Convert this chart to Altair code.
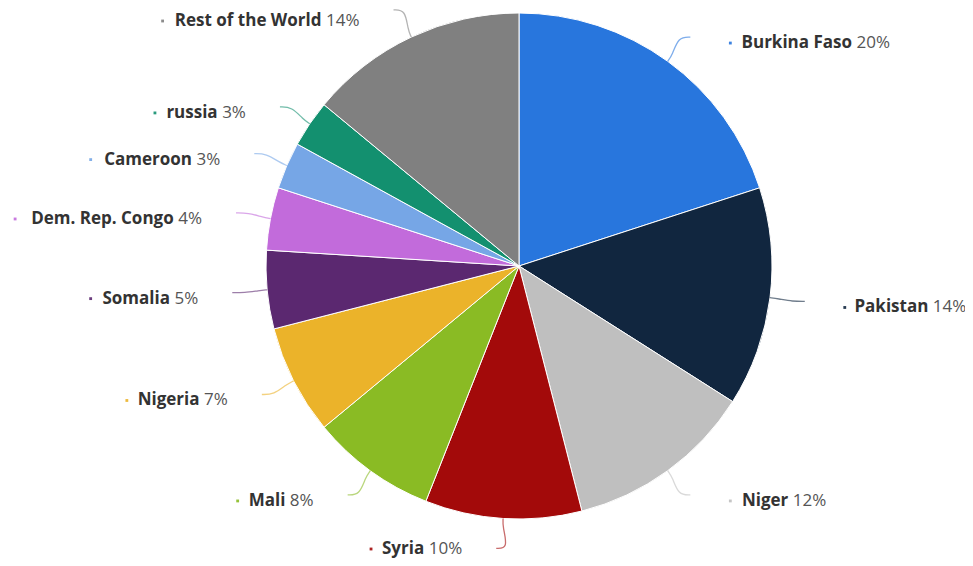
import altair as alt
import pandas as pd

countries = ["Burkina Faso", "Pakistan", "Niger", "Syria", "Mali", "Nigeria",
             "Somalia", "Dem. Rep. Congo", "Cameroon", "russia", "Rest of the World"]
shares = [20, 14, 12, 10, 8, 7, 5, 4, 3, 3, 14]
colors = ["#2876dd", "#11263f", "#bfbfbf", "#a30a0a", "#8abb24", "#ebb32a",
          "#5b2870", "#c26bdb", "#76a6e6", "#13906f", "#808080"]

FONT = "Open Sans"
FS = 17

# approximate Open Sans advance widths (units per 2048 em)
W_REG = {
    " ": 532, "%": 1579, ".": 545,
    "A": 1296, "B": 1327, "C": 1292, "D": 1493, "E": 1139, "F": 1057, "G": 1491,
    "H": 1511, "I": 571, "K": 1245, "M": 1849, "N": 1556, "P": 1237, "R": 1255,
    "S": 1124, "W": 1931,
    "a": 1139, "b": 1255, "c": 975, "d": 1255, "e": 1149, "f": 694, "g": 1122,
    "h": 1257, "i": 518, "k": 1075, "l": 518, "m": 1905, "n": 1257, "o": 1237,
    "p": 1255, "r": 836, "s": 977, "t": 723, "u": 1257, "w": 1599, "y": 1026,
}
for d in "0123456789":
    W_REG[d] = 1171


def text_w(s, bold):
    f = 1.07 if bold else 1.0
    return sum(W_REG.get(ch, 1150) for ch in s) / 2048 * FS * f


pcts = [f"{v}%" for v in shares]
df = pd.DataFrame({
    "country": countries,
    "value": shares,
    "idx": list(range(len(countries))),
    "pct": pcts,
    "nw": [round(text_w(c, True), 1) for c in countries],
    "pw": [round(text_w(p, False), 1) for p in pcts],
})

CX, CY, R, RB, RL = 511, 258, 253, 261, 283
SP = 4.5

color_scale = alt.Scale(domain=countries, range=colors)

base = alt.Chart(df)

pie = base.mark_arc(outerRadius=R, stroke="white", strokeWidth=1).encode(
    theta=alt.Theta("value:Q", stack=True),
    color=alt.Color("country:N", scale=color_scale, legend=None),
    order=alt.Order("idx:Q", sort="ascending"),
    x=alt.value(CX),
    y=alt.value(CY),
)

geo = (
    base.transform_joinaggregate(total="sum(value)")
    .transform_window(cum="sum(value)", sort=[alt.SortField("idx")], frame=[None, 0])
    .transform_calculate(mid="2*PI*(datum.cum - datum.value/2)/datum.total")
    .transform_calculate(yc=f"{CY} - {RL}*cos(datum.mid)")
    .transform_calculate(right="datum.mid < PI")
    .transform_calculate(sg="datum.right ? 1 : -1")
    .transform_calculate(dxa=f"sqrt(max(0, {RL*RL} - pow(datum.yc - {CY}, 2)))")
    .transform_calculate(xc=f"{CX} + datum.sg * datum.dxa")
    .transform_calculate(ty="clamp(datum.yc + 6, 13, 541)")
    .transform_calculate(
        nend=f"datum.right ? datum.xc + 57 + datum.nw : datum.xc - 40 - datum.pw - {SP}"
    )
    .transform_calculate(pstart=f"datum.nend + {SP}")
    .transform_calculate(dotx="datum.nend - datum.nw - 12")
)

xs = lambda f: alt.X(f, scale=None, axis=None)
ys = lambda f: alt.Y(f, scale=None, axis=None)

names = geo.mark_text(font=FONT, fontSize=FS, fontWeight="bold", align="right",
                      baseline="middle", color="#333333").encode(
    x=xs("nend:Q"), y=ys("ty:Q"), text="country:N")

pct_text = geo.mark_text(font=FONT, fontSize=FS, fontWeight="normal", align="left",
                         baseline="middle", color="#555555").encode(
    x=xs("pstart:Q"), y=ys("ty:Q"), text="pct:N")

dots = geo.mark_square(size=8, opacity=0.9).encode(
    x=xs("dotx:Q"), y=ys("ty:Q"),
    color=alt.Color("country:N", scale=color_scale, legend=None))

conn = (
    geo.transform_calculate(k="[0, 1, 2, 3]")
    .transform_flatten(["k"])
    .transform_calculate(rr=f"datum.k == 0 ? {R} : {RB}")
    .transform_calculate(
        px=(
            "datum.k == 3 ? datum.xc + 5*datum.sg : "
            "datum.k == 2 ? datum.xc - 7*datum.sg : "
            f"{CX} + datum.rr*sin(datum.mid)"
        ),
        py=f"datum.k >= 2 ? datum.yc : {CY} - datum.rr*cos(datum.mid)",
    )
    .mark_line(interpolate="basis", strokeWidth=1.3, opacity=0.6)
    .encode(
        x=xs("px:Q"), y=ys("py:Q"),
        detail="country:N",
        order=alt.Order("k:Q"),
        color=alt.Color("country:N", scale=color_scale, legend=None),
    )
)

chart = alt.layer(pie, conn, dots, names, pct_text).properties(
    width=957, height=550, autosize=alt.AutoSizeParams(type="none"),
    padding=0, background="white",
).configure_view(stroke=None)

chart.save("out.html", embed_options={"renderer": "svg", "actions": False})
